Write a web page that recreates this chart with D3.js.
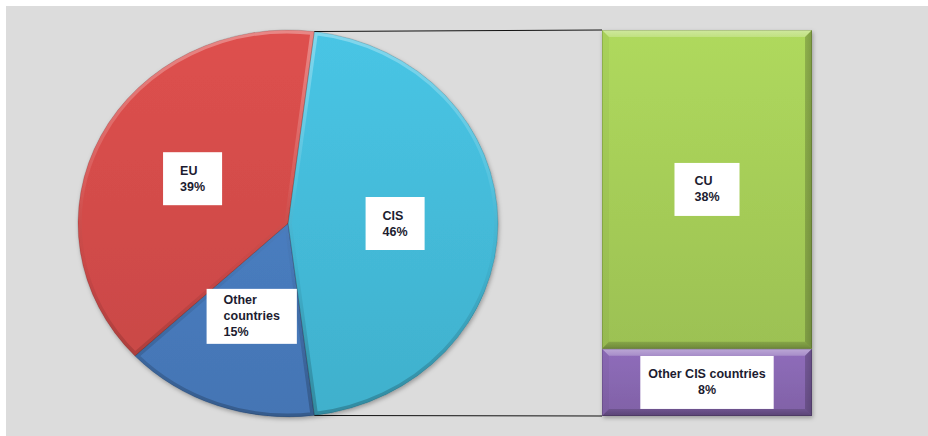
<!DOCTYPE html>
<html><head><meta charset="utf-8">
<script src="https://cdn.jsdelivr.net/npm/d3@7"></script>
<style>
html,body{margin:0;padding:0;background:#fff;}
svg{display:block;}
text{font-family:"Liberation Sans","Open Sans",sans-serif;font-weight:bold;font-size:12.5px;fill:#1c1c30;}
</style></head>
<body>
<svg id="chart" width="928" height="436"></svg>
<script>
// ---- data ----
const pieCategories = ["CIS", "Other countries", "EU"];
const pieValues = [46, 15, 39];
const pieLabels = ["CIS|46%", "Other|countries|15%", "EU|39%"];
const barCategories = ["Other CIS countries", "CU"];
const barValues = [8, 38];
const barLabels = ["Other CIS countries|8%", "CU|38%"];

// ---- layout ----
const W = 928, H = 436;
const svg = d3.select("#chart");
const pieColors = {"CIS": "#45bedd", "Other countries": "#4a7fc3", "EU": "#d64d4b"};
const barColors = {"CU": "#a9d15a", "Other CIS countries": "#8a69b4"};
const cx = 288, cy = 223.5, ry = 193.5, sx = 210 / 193.5;

svg.append("rect").attr("width", W).attr("height", H).attr("fill", "#fff");
svg.append("rect").attr("x", 6).attr("y", 6).attr("width", W - 6).attr("height", H - 6).attr("fill", "#dcdcdc");

const defs = svg.append("defs");
const sh = defs.append("filter").attr("id", "shadow").attr("x", "-10%").attr("y", "-10%").attr("width", "130%").attr("height", "130%");
sh.append("feDropShadow").attr("dx", 1).attr("dy", 2).attr("stdDeviation", 2).attr("flood-color", "#000").attr("flood-opacity", 0.3);

function vGrad(id, color, y1, y2) {
  const g = defs.append("linearGradient").attr("id", id).attr("gradientUnits", "userSpaceOnUse")
    .attr("x1", 0).attr("x2", 0).attr("y1", y1).attr("y2", y2);
  const c = d3.color(color);
  g.append("stop").attr("offset", 0).attr("stop-color", c.brighter(0.1));
  g.append("stop").attr("offset", 1).attr("stop-color", c.darker(0.22));
}
function bevelGrad(id, x1, y1, x2, y2, stops) {
  const g = defs.append("linearGradient").attr("id", id).attr("gradientUnits", "userSpaceOnUse")
    .attr("x1", x1).attr("x2", x2).attr("y1", y1).attr("y2", y2);
  stops.forEach(s => g.append("stop").attr("offset", s[0]).attr("stop-color", s[1]).attr("stop-opacity", s[2]));
}

// ---- pie ----
const total = d3.sum(pieValues);
const start = Math.PI / 2 - Math.PI * pieValues[0] / total;
const pie = d3.pie().sort(null).value(d => d.v).startAngle(start).endAngle(start + 2 * Math.PI);
const arcs = pie(pieCategories.map((c, i) => ({c, v: pieValues[i], label: pieLabels[i]})));
const arc = d3.arc().innerRadius(0).outerRadius(ry);
const rimArc = d3.arc().innerRadius(ry - 3).outerRadius(ry - 3);
const labelArc = d3.arc().innerRadius(ry * 0.51).outerRadius(ry * 0.51);

const pg = svg.append("g").attr("transform", `translate(${cx},${cy}) scale(${sx},1)`);
const pgShadow = pg.append("g").attr("filter", "url(#shadow)");
arcs.forEach((d, i) => {
  vGrad("pg" + i, pieColors[d.data.c], -ry, ry);
  defs.append("clipPath").attr("id", "pc" + i).append("path").attr("d", arc(d));
});
pgShadow.selectAll("path.slice").data(arcs).join("path").attr("class", "slice")
  .attr("d", arc).attr("fill", (d, i) => `url(#pg${i})`);
// soft bevel band along the rim and the slice edges
bevelGrad("pieBevel", 0, -ry, 0, ry, [[0, "#fff", 0.32], [0.4, "#fff", 0.08], [0.6, "#000", 0.03], [1, "#000", 0.22]]);
pg.selectAll("path.bevel").data(arcs).join("path").attr("class", "bevel")
  .attr("d", arc).attr("fill", "none").attr("stroke", "url(#pieBevel)")
  .attr("stroke-width", 7).attr("clip-path", (d, i) => `url(#pc${i})`);
pg.selectAll("path.edge").data(arcs).join("path").attr("class", "edge")
  .attr("d", arc).attr("fill", "none").attr("stroke", "#000").attr("stroke-opacity", 0.14)
  .attr("stroke-width", 1).attr("vector-effect", "non-scaling-stroke");

// ---- bar ----
const barTotal = d3.sum(barValues);
const x = d3.scaleBand().domain(["CIS"]).range([602, 812]);
const y = d3.scaleLinear().domain([0, barTotal]).range([416, 30]);
let acc = 0;
const stacked = barCategories.map((c, i) => {
  const d = {c, v: barValues[i], label: barLabels[i], y0: acc, y1: acc + barValues[i]};
  acc += barValues[i];
  return d;
});

// connector lines from CIS slice edges to bar
const cisArc = arcs[0];
const p0 = [cx + sx * ry * Math.sin(cisArc.startAngle), cy - ry * Math.cos(cisArc.startAngle)];
const p1 = [cx + sx * ry * Math.sin(cisArc.endAngle), cy - ry * Math.cos(cisArc.endAngle)];
svg.append("line").attr("x1", p0[0]).attr("y1", p0[1]).attr("x2", x("CIS")).attr("y2", y(barTotal))
  .attr("stroke", "#111").attr("stroke-width", 1);
svg.append("line").attr("x1", p1[0]).attr("y1", p1[1]).attr("x2", x("CIS")).attr("y2", y(0))
  .attr("stroke", "#111").attr("stroke-width", 1);

const bg = svg.append("g");
const bgS = bg.append("g").attr("filter", "url(#shadow)");
stacked.forEach((d, i) => {
  const top = y(d.y1), h = y(d.y0) - y(d.y1);
  vGrad("bg" + i, barColors[d.c], top, top + h);
  // top band light, bottom band dark
  bevelGrad("bbv" + i, 0, top, 0, top + h, [[0, "#fff", 0.4], [Math.min(0.5, 12 / h), "#fff", 0.1], [Math.max(0.5, 1 - 12 / h), "#000", 0.04], [1, "#000", 0.3]]);
  // left edge neutral, right edge darker
  bevelGrad("bbh" + i, x("CIS"), 0, x("CIS") + x.bandwidth(), 0, [[0, "#000", 0.04], [0.9, "#000", 0.0], [1, "#000", 0.28]]);
  defs.append("clipPath").attr("id", "bc" + i).append("rect")
    .attr("x", x("CIS")).attr("y", top).attr("width", x.bandwidth()).attr("height", h);
});
bgS.selectAll("rect.bar").data(stacked).join("rect").attr("class", "bar")
  .attr("x", x("CIS")).attr("y", d => y(d.y1)).attr("width", x.bandwidth())
  .attr("height", d => y(d.y0) - y(d.y1)).attr("fill", (d, i) => `url(#bg${i})`);
// horizontal bevel bands (top/bottom)
bg.selectAll("path.bevelV").data(stacked).join("path").attr("class", "bevelV")
  .attr("d", d => {
    const l = x("CIS"), r = l + x.bandwidth(), t = y(d.y1), b = y(d.y0), k = 7;
    return `M${l},${t}L${r},${t}L${r - k},${t + k}L${l + k},${t + k}Z M${l},${b}L${r},${b}L${r - k},${b - k}L${l + k},${b - k}Z`;
  })
  .attr("fill", (d, i) => `url(#bbv${i})`);
// vertical bevel bands (left/right)
bg.selectAll("path.bevelH").data(stacked).join("path").attr("class", "bevelH")
  .attr("d", d => {
    const l = x("CIS"), r = l + x.bandwidth(), t = y(d.y1), b = y(d.y0), k = 7;
    return `M${l},${t}L${l + k},${t + k}L${l + k},${b - k}L${l},${b}Z M${r},${t}L${r - k},${t + k}L${r - k},${b - k}L${r},${b}Z`;
  })
  .attr("fill", (d, i) => `url(#bbh${i})`);
bg.selectAll("rect.edge").data(stacked).join("rect").attr("class", "edge")
  .attr("x", x("CIS") + 0.5).attr("y", d => y(d.y1) + 0.5).attr("width", x.bandwidth() - 1)
  .attr("height", d => y(d.y0) - y(d.y1) - 1).attr("fill", "none")
  .attr("stroke", "#000").attr("stroke-opacity", 0.14);

// ---- labels ----
const lineH = 16;
function drawLabel(cxL, cyL, lines, center, padX) {
  const g = svg.append("g");
  const rect = g.append("rect").attr("fill", "#fff");
  const t = g.append("text").attr("text-anchor", center ? "middle" : "start");
  lines.forEach((s, k) => t.append("tspan").attr("x", 0).attr("y", k * lineH).text(s));
  const w = Math.max(...t.selectAll("tspan").nodes().map(n => n.getComputedTextLength()));
  const bw = w + 2 * padX, bh = Math.max(53, lines.length * lineH + 7);
  const left = cxL - bw / 2, topY = cyL - bh / 2;
  rect.attr("x", left).attr("y", topY).attr("width", bw).attr("height", bh);
  const tx = center ? cxL : left + padX;
  const textTop = cyL - (lines.length * lineH) / 2;
  t.attr("transform", `translate(${tx},${textTop + 12})`);
}
arcs.forEach(d => {
  const c = labelArc.centroid(d);
  drawLabel(cx + sx * c[0], cy + c[1], d.data.label.split("|"), false, 17);
});
stacked.forEach(d => {
  const cyL = (y(d.y0) + y(d.y1)) / 2;
  const lines = d.label.split("|");
  const wide = lines[0].length > 10;
  drawLabel(x("CIS") + x.bandwidth() / 2, cyL, lines, wide, wide ? 8 : 20);
});
</script>
</body></html>
